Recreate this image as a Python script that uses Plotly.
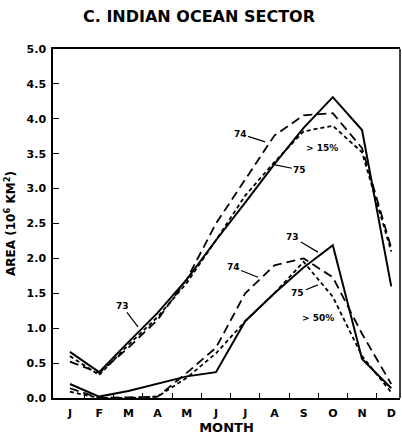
import plotly.graph_objects as go

months = ["J", "F", "M", "A", "M", "J", "J", "A", "S", "O", "N", "D"]
month_idx = list(range(12))

# > 15% concentration
a15_73 = [0.66, 0.37, 0.80, 1.22, 1.70, 2.26, 2.80, 3.35, 3.87, 4.31, 3.84, 1.60]
a15_74 = [0.52, 0.36, 0.72, 1.12, 1.70, 2.50, 3.13, 3.76, 4.05, 4.08, 3.58, 2.15]
a15_75 = [0.60, 0.33, 0.76, 1.16, 1.65, 2.26, 2.90, 3.38, 3.82, 3.90, 3.52, 2.10]

# > 50% concentration
a50_73 = [0.20, 0.02, 0.10, 0.20, 0.31, 0.37, 1.10, 1.50, 1.87, 2.19, 0.56, 0.14]
a50_74 = [0.14, 0.00, 0.01, 0.02, 0.36, 0.72, 1.50, 1.90, 2.00, 1.73, 0.92, 0.20]
a50_75 = [0.09, 0.00, 0.00, 0.02, 0.29, 0.64, 1.10, 1.50, 1.95, 1.45, 0.60, 0.08]

y_ticks = [0.0, 0.5, 1.0, 1.5, 2.0, 2.5, 3.0, 3.5, 4.0, 4.5, 5.0]

styles = {
    "73": dict(color="black", width=2.0, dash="solid"),
    "74": dict(color="black", width=1.8, dash="9px,5px"),
    "75": dict(color="black", width=1.8, dash="4px,3px"),
}

fig = go.Figure()
for name, ys in [("73", a15_73), ("74", a15_74), ("75", a15_75),
                 ("73", a50_73), ("74", a50_74), ("75", a50_75)]:
    fig.add_trace(go.Scatter(x=month_idx, y=ys, mode="lines",
                             line=styles[name], showlegend=False,
                             hoverinfo="skip"))

FONT = "DejaVu Sans"
lab_font = dict(family=FONT, size=9, color="black", weight="bold")
labels = [
    # text, x, y, ax, ay, arrow
    ("73", 2.33, 1.02, -16, -21, True),
    ("74", 6.68, 3.67, -25, -8, True),
    ("75", 7.02, 3.34, 25, 5, True),
    ("&gt; 15%", 8.63, 3.58, 0, 0, False),
    ("73", 8.49, 2.09, -25, -15, True),
    ("74", 6.44, 1.73, -25, -10, True),
    ("75", 8.49, 1.62, -20, 8, True),
    ("&gt; 50%", 8.49, 1.15, 0, 0, False),
]
for t, x, y, ax, ay, arr in labels:
    if arr:
        fig.add_annotation(x=x, y=y, text=t, showarrow=True, arrowhead=0,
                           arrowwidth=1.2, arrowcolor="black", ax=ax, ay=ay,
                           standoff=0, font=lab_font)
    else:
        fig.add_annotation(x=x, y=y, text=t, showarrow=False, font=lab_font)

axis_font = dict(family=FONT, size=11, color="black", weight="bold")

fig.update_layout(
    width=402, height=436,
    margin=dict(l=53, r=2, t=49, b=38),
    paper_bgcolor="white", plot_bgcolor="white",
    title=dict(text="C. INDIAN OCEAN SECTOR", x=0.495, xanchor="center",
               y=0.962, yanchor="middle",
               font=dict(family=FONT, size=16, color="black",
                         weight="bold")),
    xaxis=dict(range=[-0.58, 11.3], tickvals=month_idx, ticktext=months,
               ticks="", showgrid=False, zeroline=False,
               showline=True, linecolor="black", linewidth=1.5, mirror=True,
               tickfont=axis_font, ticklabelstandoff=4,
               minor=dict(tickvals=[i + 0.5 for i in range(11)],
                          ticks="inside", ticklen=5, tickcolor="black",
                          tickwidth=1.2, showgrid=False),
               title=dict(text="MONTH",
                          font=dict(family=FONT, size=13, color="black",
                                    weight="bold"),
                          standoff=4)),
    yaxis=dict(range=[0, 5.0], tickvals=y_ticks, tickformat=".1f",
               ticks="inside", ticklen=6, tickwidth=1.2, tickcolor="black",
               showgrid=False, zeroline=False,
               showline=True, linecolor="black", linewidth=1.5, mirror=False,
               tickfont=axis_font, ticklabelstandoff=3,
               title=dict(text="AREA (10<sup>6</sup> KM<sup>2</sup>)",
                          font=dict(family=FONT, size=12,
                                    color="black", weight="bold"),
                          standoff=8)),
    shapes=[dict(type="line", xref="paper", yref="paper", x0=1, x1=1,
                 y0=0, y1=1, line=dict(color="black", width=1.5))],
)

fig.write_html("out.html", config={"displayModeBar": False},
               post_script="document.body.style.margin='0px';")
